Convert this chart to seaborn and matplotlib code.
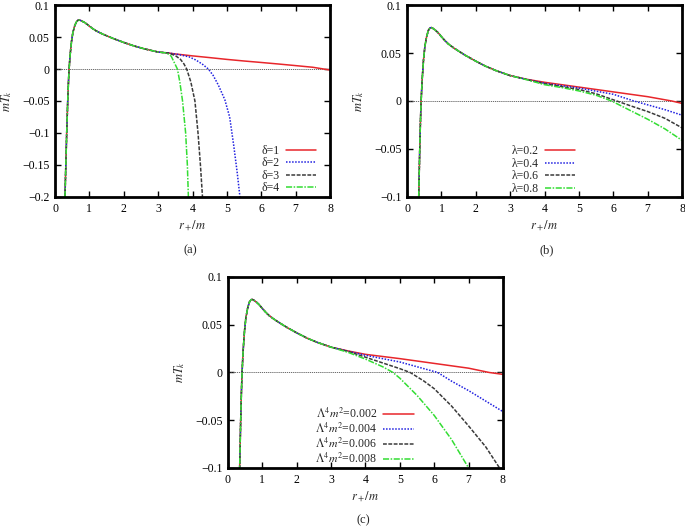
import numpy as np
import pandas as pd
import matplotlib
matplotlib.use('Agg')
import matplotlib.pyplot as plt
from matplotlib.ticker import FuncFormatter, MultipleLocator
import seaborn as sns

# shared part of every curve (r+/m, mT_k)
r_common = [0.29, 0.315, 0.34, 0.37, 0.39, 0.41, 0.44, 0.48, 0.52, 0.57, 0.62, 0.67,
            0.71, 0.76, 0.85, 0.92, 1.0, 1.1, 1.2, 1.35, 1.5, 1.7, 2.0, 2.3, 2.6, 3.0]
t_common = [-0.2, -0.15, -0.1, -0.05, -0.022, 0.0, 0.022, 0.043, 0.057, 0.067, 0.0735, 0.0762,
            0.0765, 0.0755, 0.073, 0.0705, 0.067, 0.063, 0.0595, 0.0555, 0.052, 0.0475, 0.0415, 0.036, 0.0315, 0.0265]

# panel (a): delta
a_labels = ['δ=1', 'δ=2', 'δ=3', 'δ=4']
a_r = [[3.3, 3.5, 4.0, 4.5, 5.0, 5.5, 6.0, 6.5, 7.0, 7.5, 8.0],
       [3.3, 3.6, 3.9, 4.1, 4.3, 4.46, 4.6, 4.75, 4.94, 5.08, 5.2, 5.3, 5.38],
       [3.3, 3.5, 3.65, 3.75, 3.83, 3.95, 4.07, 4.16, 4.23, 4.29],
       [3.25, 3.38, 3.47, 3.56, 3.63, 3.71, 3.8, 3.85, 3.88]]
a_t = [[0.025, 0.0235, 0.0205, 0.0178, 0.015, 0.0125, 0.0102, 0.0078, 0.0053, 0.0027, -0.0016],
       [0.025, 0.0225, 0.019, 0.014, 0.007, 0.0, -0.01, -0.025, -0.048, -0.075, -0.12, -0.162, -0.2],
       [0.025, 0.021, 0.015, 0.008, 0.0, -0.02, -0.05, -0.1, -0.15, -0.2],
       [0.025, 0.02, 0.01, 0.0, -0.02, -0.05, -0.1, -0.15, -0.2]]

# panel (b): lambda
b_labels = ['λ=0.2', 'λ=0.4', 'λ=0.6', 'λ=0.8']
b_r = [[3.5, 4.0, 5.0, 6.0, 7.0, 7.7, 8.0],
       [3.5, 4.0, 5.0, 6.0, 6.6, 7.0, 7.5, 8.0],
       [3.5, 4.0, 5.0, 5.5, 6.1, 6.5, 7.0, 7.5, 8.0],
       [3.5, 4.0, 4.5, 5.0, 5.5, 5.95, 6.5, 7.0, 7.5, 8.0]]
b_t = [[0.0225, 0.0195, 0.0145, 0.0095, 0.0045, 0.0, -0.0025],
       [0.0223, 0.0185, 0.0135, 0.007, 0.0, -0.004, -0.009, -0.0148],
       [0.0222, 0.018, 0.012, 0.0075, 0.0, -0.005, -0.011, -0.018, -0.028],
       [0.022, 0.017, 0.014, 0.0105, 0.006, 0.0, -0.01, -0.019, -0.029, -0.041]]

# panel (c): Lambda^4 m^2
c_labels = ['$\\Lambda^4m^2$=0.002', '$\\Lambda^4m^2$=0.004',
            '$\\Lambda^4m^2$=0.006', '$\\Lambda^4m^2$=0.008']
c_r = [[3.5, 4.0, 5.0, 6.0, 7.0, 7.6, 8.0],
       [3.5, 4.0, 5.0, 5.5, 6.1, 6.5, 7.0, 7.5, 8.0],
       [3.5, 4.0, 4.5, 5.0, 5.3, 5.7, 6.0, 6.5, 7.0, 7.5, 7.9],
       [3.5, 4.0, 4.5, 4.8, 5.0, 5.5, 6.0, 6.5, 7.0]]
c_t = [[0.0225, 0.019, 0.0145, 0.0095, 0.0045, 0.0, -0.002],
       [0.0222, 0.018, 0.011, 0.006, 0.0, -0.009, -0.019, -0.03, -0.041],
       [0.022, 0.016, 0.010, 0.004, 0.0, -0.009, -0.017, -0.035, -0.056, -0.078, -0.1],
       [0.021, 0.014, 0.006, 0.0, -0.006, -0.024, -0.045, -0.07, -0.1]]

colors = ['#e8262b', '#2020e0', '#3a3a3a', '#33dd33']
dashes = ['-', (0, (1, 1)), (0, (2.5, 1)), (0, (4, 1, 1, 1))]

sns.set_style('ticks')
plt.rcParams['font.family'] = ['Liberation Serif', 'DejaVu Serif']
plt.rcParams['mathtext.fontset'] = 'stix'
plt.rcParams['font.size'] = 8
plt.rcParams['axes.edgecolor'] = 'black'
plt.rcParams['xtick.color'] = 'black'
plt.rcParams['ytick.color'] = 'black'


def fmt(v, pos):
    return ('%g' % round(v, 3)).replace('-', '\u2212')


def draw(ax, rs, ts, labels, ylo, leg_anchor):
    ax.axhline(0, color='#555555', lw=0.6, ls=(0, (1.5, 1)))
    for r, t, lab, c, d in zip(rs, ts, labels, colors, dashes):
        df = pd.DataFrame({'r': r_common + r, 't': t_common + t})
        sns.lineplot(data=df, x='r', y='t', ax=ax, color=c, linestyle=d, lw=1.1,
                     sort=False, estimator=None, label=lab)
    ax.set_xlim(0, 8)
    ax.set_ylim(ylo, 0.1)
    ax.xaxis.set_major_locator(MultipleLocator(1))
    ax.yaxis.set_major_locator(MultipleLocator(0.05))
    ax.yaxis.set_major_formatter(FuncFormatter(fmt))
    ax.tick_params(direction='in', length=4, width=1, top=True, right=True, labelsize=8.5, pad=4)
    for s in ax.spines.values():
        s.set_linewidth(2)
        s.set_color('black')
    ax.set_xlabel('$r_+/m$', fontsize=9, labelpad=3)
    ax.set_ylabel('$mT_k$', fontsize=9, labelpad=6)
    ax.legend(loc='lower right', bbox_to_anchor=leg_anchor, bbox_transform=ax.transData,
              frameon=False, markerfirst=False, handlelength=2.6, handletextpad=0.5,
              labelspacing=0.05, borderpad=0, borderaxespad=0, fontsize=8.5)


fig = plt.figure(figsize=(6.85, 5.27), dpi=100)
ax_a = fig.add_axes([0.0803, 0.6262, 0.4015, 0.3643])
ax_b = fig.add_axes([0.5942, 0.6262, 0.4015, 0.3643])
ax_c = fig.add_axes([0.3328, 0.1120, 0.4015, 0.3624])

draw(ax_a, a_r, a_t, a_labels, -0.2, (7.6, -0.196))
draw(ax_b, b_r, b_t, b_labels, -0.1, (4.9, -0.098))
draw(ax_c, c_r, c_t, c_labels, -0.1, (5.4, -0.098))

fig.text(190 / 685, 1 - 250 / 527, '(a)', ha='center', va='center', fontsize=9)
fig.text(547 / 685, 1 - 250 / 527, '(b)', ha='center', va='center', fontsize=9)
fig.text(363 / 685, 1 - 520 / 527, '(c)', ha='center', va='center', fontsize=9)

fig.savefig('out.png', dpi=100)
